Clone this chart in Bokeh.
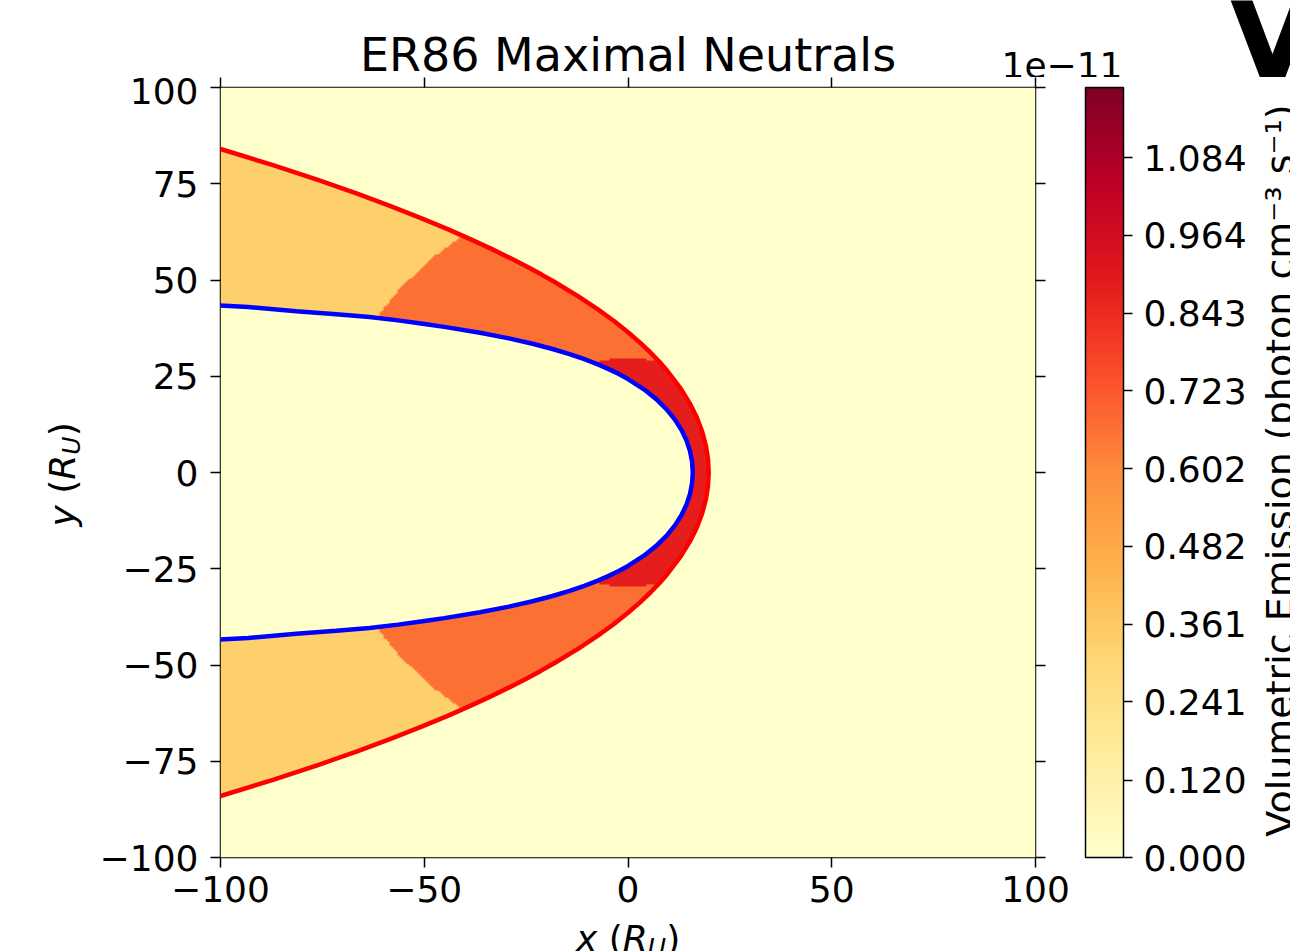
import numpy as np
from math import pi
from bokeh.plotting import figure
from bokeh.layouts import column, row
from bokeh.core.properties import value
from bokeh.models import (Range1d, LinearAxis, FixedTicker, LinearColorMapper, ColorBar,
                          PrintfTickFormatter, ColumnDataSource)
from bokeh.embed import file_html
from bokeh.resources import INLINE

# ---------------- data ----------------
title_text = "ER86 Maximal Neutrals"

# bow shock (red), upper half, x and y in R_U
bow_x = [19.80, 19.63, 19.11, 18.23, 16.92, 15.13, 12.75, 9.62, 7.70, 5.50, 2.95, 0.00,
         -3.44, -7.48, -12.28, -18.01, -21.32, -24.97, -29.02, -33.53, -38.58, -44.25,
         -50.66, -57.95, -66.30, -75.92, -87.11, -100.21, -115.80, -134.5]
bow_y = [0.00, 3.46, 6.96, 10.52, 14.20, 18.03, 22.08, 26.43, 28.74, 31.17, 33.73, 36.44,
         39.34, 42.45, 45.81, 49.49, 51.47, 53.55, 55.75, 58.08, 60.55, 63.20,
         66.02, 69.07, 72.35, 75.92, 79.82, 84.09, 88.85, 94.2]

# magnetopause (blue), upper half
mp_x = [15.90, 15.73, 15.22, 14.37, 13.14, 11.52, 9.48, 6.94, 3.82, 0.00, -2.24, -4.73,
        -7.54, -10.71, -14.34, -18.52, -23.41, -29.23, -36.30, -45.09, -50.38, -56.43,
        -63.42, -71.60, -81.40, -93.20, -104.70]
mp_y = [0.00, 2.77, 5.54, 8.29, 11.03, 13.73, 16.41, 19.06, 21.68, 24.27, 25.56, 26.85,
        28.14, 29.43, 30.75, 32.08, 33.43, 34.83, 36.30, 37.83, 38.66, 39.51,
        40.40, 41.10, 41.90, 43.00, 43.60]

# emission zones in the magnetosheath, by radial distance (R_U)
zone_r_edges = [29.6, 73.5]
zone_values = [0.884, 0.665, 0.334]      # units of 1e-11 photon cm^-3 s^-1
background_value = 0.0

cb_ticks = [0.000, 0.120, 0.241, 0.361, 0.482, 0.602, 0.723, 0.843, 0.964, 1.084]
cb_low, cb_high = 0.0, 1.193
x_ticks = [-100, -50, 0, 50, 100]
y_ticks = [-100, -75, -50, -25, 0, 25, 50, 75, 100]

# ---------------- colour map (matplotlib YlOrRd) ----------------
anchors = ['#ffffcc', '#ffeda0', '#fed976', '#feb24c', '#fd8d3c',
           '#fc4e2a', '#e31a1c', '#bd0026', '#800026']
argb = [tuple(int(h[i:i + 2], 16) for i in (1, 3, 5)) for h in anchors]
palette = []
for i in range(256):
    t = i / 255 * (len(argb) - 1)
    k = min(int(t), len(argb) - 2)
    f = t - k
    c = [round((1 - f) * argb[k][j] + f * argb[k + 1][j]) for j in range(3)]
    palette.append('#%02x%02x%02x' % tuple(c))
mapper = LinearColorMapper(palette=palette, low=cb_low, high=cb_high)

# ---------------- emission grid from the curves ----------------
n = 400
gx = np.linspace(-100, 100, n, endpoint=False) + 100.0 / n
X, Y = np.meshgrid(gx, gx)
AY = np.abs(Y)
xb = np.interp(AY, bow_y, bow_x)
xm = np.interp(AY, mp_y, mp_x, right=-1e9)
inside = (X < xb) & (X > xm)
R = np.hypot(X, Y)
zone = np.digitize(R, zone_r_edges)
emis = np.where(inside, np.array(zone_values)[zone], background_value)

# full (mirrored) curves
bx = np.array(bow_x); by = np.array(bow_y)
mx = np.array(mp_x); my = np.array(mp_y)
bow_fx = np.concatenate([bx[::-1], bx[1:]]); bow_fy = np.concatenate([-by[::-1], by[1:]])
mp_fx = np.concatenate([mx[::-1], mx[1:]]); mp_fy = np.concatenate([-my[::-1], my[1:]])

FONT = "DejaVu Sans"
W, H = 1290, 951
TOP_H, BOT_H = 77, 30
LEFT_W, RIGHT_W = 85, 40
MID_H = H - TOP_H - BOT_H          # 844
MAIN_W = W - LEFT_W - RIGHT_W      # 1165
FL, FR, FT, FB = 220, 1035, 87, 857   # frame in page pixels
MB_TOP = FT - TOP_H
MB_BOT = (TOP_H + MID_H) - FB

# ---------------- main figure ----------------
p = figure(width=MAIN_W, height=MID_H, x_range=Range1d(-100, 100), y_range=Range1d(-100, 100),
           output_backend="svg", toolbar_location=None, title=None,
           min_border_left=FL - LEFT_W, min_border_right=(LEFT_W + MAIN_W) - FR,
           min_border_top=MB_TOP, min_border_bottom=MB_BOT,
           x_axis_type=None, y_axis_type=None)
p.outline_line_color = "black"
p.outline_line_width = 1.5
p.border_fill_color = "white"
p.background_fill_color = "#ffffcc"

p.image(image=[emis], x=-100, y=-100, dw=200, dh=200, color_mapper=mapper)
p.line(bow_fx, bow_fy, line_color="#ff0000", line_width=4.5)
p.line(mp_fx, mp_fy, line_color="#0000ff", line_width=4.5)

def fmt(v):
    return ("\u2212" + str(abs(v))) if v < 0 else str(v)

def make_axis(ticks, show, standoff):
    ax = LinearAxis(ticker=FixedTicker(ticks=ticks),
                    major_label_overrides={t: fmt(t) for t in ticks})
    ax.axis_line_color = None
    ax.major_tick_out = 10
    ax.major_tick_in = 0
    ax.major_tick_line_width = 1.5
    ax.major_tick_line_color = "black"
    ax.minor_tick_line_color = None
    ax.major_label_text_font = FONT
    ax.major_label_text_font_size = "36px" if show else "0px"
    ax.major_label_text_color = "black" if show else None
    ax.major_label_standoff = standoff
    return ax

p.add_layout(make_axis(x_ticks, True, 8), "below")
p.add_layout(make_axis(y_ticks, True, 12), "left")
p.add_layout(make_axis(x_ticks, False, 0), "above")
p.add_layout(make_axis(y_ticks, False, 0), "right")

cb = ColorBar(color_mapper=mapper, ticker=FixedTicker(ticks=cb_ticks),
              formatter=PrintfTickFormatter(format="%.3f"),
              width=38, height=FB - FT, location=(1085 - FL, 0), padding=0, margin=0,
              orientation="vertical", bar_line_color="black", bar_line_width=1.5,
              major_tick_out=9, major_tick_in=0, major_tick_line_color="black",
              major_tick_line_width=1.5, minor_tick_line_color=None,
              major_label_text_font=FONT, major_label_text_font_size="36px",
              major_label_text_color="black",
              label_standoff=11, background_fill_alpha=0, border_line_color=None)
p.add_layout(cb, "center")

# ---------------- text strips (coordinates = page pixels) ----------------
def strip(x0, x1, y0, y1, fy0, fy1, mbt=0, mbb=0):
    f = figure(width=x1 - x0, height=y1 - y0, x_range=Range1d(x0, x1), y_range=Range1d(fy1, fy0),
               output_backend="svg", toolbar_location=None, title=None,
               min_border_left=0, min_border_right=0, min_border_top=mbt, min_border_bottom=mbb,
               x_axis_type=None, y_axis_type=None)
    f.outline_line_color = None
    f.background_fill_color = "white"
    f.border_fill_color = "white"
    return f

top = strip(0, W, 0, TOP_H, 0, TOP_H)
left = strip(0, LEFT_W, TOP_H, TOP_H + MID_H, FT, FB, MB_TOP, MB_BOT)
right = strip(LEFT_W + MAIN_W, W, TOP_H, TOP_H + MID_H, FT, FB, MB_TOP, MB_BOT)
bottom = strip(0, W, TOP_H + MID_H, H, TOP_H + MID_H, H)

MID = 0.346   # renderer anchors text at the middle of its (ascent, descent) box

def lab(f, px, py, text, size=36, align="left", angle=0.0, style="normal"):
    # (px, py) is the wanted baseline point; shift to the anchor the renderer uses
    d = MID * size
    if angle == 0.0:
        ax_, ay_ = px, py - d
    else:
        ax_, ay_ = px - d, py
    src = ColumnDataSource(dict(x=[ax_], y=[ay_], t=[text]))
    f.text(x="x", y="y", text="t", source=src, text_font=value(FONT),
           text_font_size="%dpx" % size, text_align=align, text_baseline="alphabetic",
           angle=angle, text_font_style=style, text_color="black")

lab(top, 627.5, 70, title_text, size=46, align="center")
lab(top, 1122, 77, "1e\u221211", align="right")
lab(top, 1272, 78, "V", size=215, align="center")
lab(right, 1293, 470, "Volumetric Emission (photon cm\u207b\u00b3 s\u207b\u00b9)",
    size=38, align="center", angle=pi / 2)

# x label: x (R_U)
x0 = 575.5; bl = 950
lab(bottom, x0, bl, "x", style="italic")
lab(bottom, x0 + 32.8, bl, "(")
lab(bottom, x0 + 46.8, bl, "R", style="italic")
lab(bottom, x0 + 71.8, bl + 6, "U", size=25, style="italic")
lab(bottom, x0 + 90.2, bl, ")")

# y label: y (R_U), rotated
y0 = 526; bx_ = 74
lab(left, bx_, y0, "y", style="italic", angle=pi / 2)
lab(left, bx_, y0 - 32.8, "(", angle=pi / 2)
lab(left, bx_, y0 - 46.8, "R", style="italic", angle=pi / 2)
lab(left, bx_ + 6, y0 - 71.8, "U", size=25, style="italic", angle=pi / 2)
lab(left, bx_, y0 - 90.2, ")", angle=pi / 2)

layout = column(top, row(left, p, right, spacing=0), bottom, spacing=0)
open("out.html", "w").write(file_html(layout, INLINE))
